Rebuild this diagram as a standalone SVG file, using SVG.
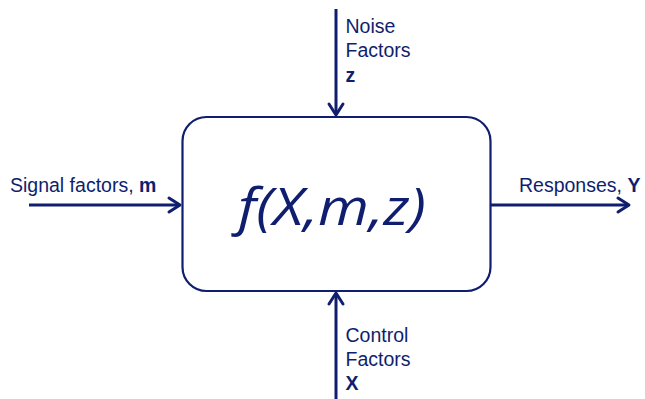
<svg xmlns="http://www.w3.org/2000/svg" width="645" height="399" viewBox="0 0 645 399">
<defs>
<style>
.lbl{font-family:"Liberation Sans",Arial,sans-serif;font-size:19.5px;fill:#0f1e6e}
.b{font-weight:bold}
.wire{stroke:#0f1e6e;stroke-width:3;fill:none}
.head{stroke:#0f1e6e;stroke-width:3;fill:none;stroke-linecap:round;stroke-linejoin:round}
</style>
</defs>
<rect width="645" height="399" fill="#ffffff"/>
<g id="function">
<rect x="182.5" y="117" width="308" height="174" rx="24" ry="24" fill="#ffffff" stroke="#0f1e6e" stroke-width="2.2"/>
<text x="332" y="225" text-anchor="middle" font-family="'Open Sans','Noto Sans',sans-serif" font-style="italic" font-size="52" fill="#0f1e6e" textLength="188" lengthAdjust="spacingAndGlyphs">f(X,m,z)</text>
</g>
<g id="connectors">
<line class="wire" x1="336" y1="9" x2="336" y2="114"/>
<polyline class="head" points="329,104 336,115 343,104"/>
<line class="wire" x1="336" y1="399" x2="336" y2="294"/>
<polyline class="head" points="329,304 336,293 343,304"/>
<line class="wire" x1="29" y1="205" x2="179" y2="205"/>
<polyline class="head" points="169,198 180,205 169,212"/>
<line class="wire" x1="491" y1="205" x2="628" y2="205"/>
<polyline class="head" points="618,198 629,205 618,212"/>
</g>
<g id="noise">
<text class="lbl" x="345.5" y="33">Noise</text>
<text class="lbl" x="345.5" y="57">Factors</text>
<text class="lbl b" x="345.5" y="82">z</text>
</g>
<g id="control">
<text class="lbl" x="345.5" y="342">Control</text>
<text class="lbl" x="345.5" y="366">Factors</text>
<text class="lbl b" x="345.5" y="390">X</text>
</g>
<g id="signal">
<text class="lbl" x="10" y="192">Signal factors, <tspan class="b">m</tspan></text>
</g>
<g id="responses">
<text class="lbl" x="519" y="192">Responses, <tspan class="b">Y</tspan></text>
</g>
</svg>
